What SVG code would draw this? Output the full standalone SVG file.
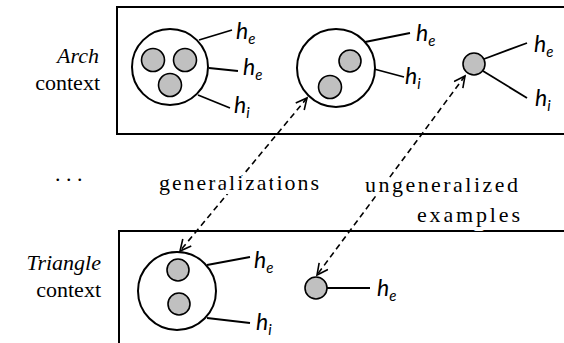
<svg xmlns="http://www.w3.org/2000/svg" width="564" height="343" viewBox="0 0 564 343">
<defs>
<style>
.frame{fill:none;stroke:#000;stroke-width:2}
.big{fill:#fff;stroke:#000;stroke-width:2}
.small{fill:#c0c0c0;stroke:#000;stroke-width:1.6}
.lk{stroke:#000;stroke-width:1.8;fill:none}
.dash{stroke:#000;stroke-width:1.6;fill:none;stroke-dasharray:6 4}
</style>
<marker id="ah" markerWidth="14" markerHeight="14" refX="12" refY="6" orient="auto-start-reverse" markerUnits="userSpaceOnUse">
<path d="M1,0.5 L12,6 L1,11.5" fill="none" stroke="#000" stroke-width="1.6"/>
</marker>
</defs>

<g id="arch-context" font-family="Liberation Serif, Times New Roman, serif" font-size="22">
<rect class="frame" x="117" y="7" width="460" height="127"/>
<text x="99" y="63" text-anchor="end" font-style="italic">Arch</text>
<text x="100" y="90" text-anchor="end">context</text>
</g>

<g id="triangle-context" font-family="Liberation Serif, Times New Roman, serif" font-size="22">
<path class="frame" d="M119,350 L119,231 L570,231"/>
<text x="101" y="270" text-anchor="end" font-style="italic">Triangle</text>
<text x="101" y="297" text-anchor="end">context</text>
</g>

<text id="ellipsis" x="55" y="181" font-family="Liberation Serif, Times New Roman, serif" font-size="22">. . .</text>

<g id="connectors">
<line class="dash" x1="307" y1="98" x2="180" y2="251" marker-start="url(#ah)" marker-end="url(#ah)"/>
<line class="dash" x1="465" y1="76" x2="317" y2="275" marker-start="url(#ah)" marker-end="url(#ah)"/>
<line class="lk" x1="199" y1="40" x2="232" y2="30"/>
<line class="lk" x1="209" y1="68" x2="238" y2="71"/>
<line class="lk" x1="198" y1="95" x2="230" y2="108"/>
<line class="lk" x1="365" y1="42" x2="410" y2="33"/>
<line class="lk" x1="374" y1="69" x2="404" y2="77"/>
<line class="lk" x1="484" y1="59" x2="527" y2="43"/>
<line class="lk" x1="483" y1="71" x2="527" y2="98"/>
<line class="lk" x1="207" y1="265" x2="250" y2="257"/>
<line class="lk" x1="207" y1="318" x2="250" y2="323"/>
<line class="lk" x1="327" y1="288" x2="370" y2="288"/>
</g>

<g id="labels" font-family="Liberation Serif, Times New Roman, serif" font-size="22" stroke="#fff" stroke-width="8" stroke-linejoin="round" paint-order="stroke">
<text x="159" y="190" textLength="160" lengthAdjust="spacing">generalizations</text>
<text x="365" y="192" textLength="153" lengthAdjust="spacing">ungeneralized</text>
<text x="417" y="222" textLength="103" lengthAdjust="spacing">examples</text>
</g>

<g id="arch-g3" font-family="Lato, Open Sans, sans-serif" font-size="23" font-style="italic">
<circle class="big" cx="170" cy="67" r="38"/>
<circle class="small" cx="153" cy="60" r="11.5"/>
<circle class="small" cx="185" cy="60" r="11.5"/>
<circle class="small" cx="170" cy="85" r="11.5"/>
<text x="236" y="39">h<tspan font-size="15" dy="5">e</tspan></text>
<text x="243" y="75">h<tspan font-size="15" dy="5">e</tspan></text>
<text x="234" y="113">h<tspan font-size="15" dy="5">i</tspan></text>
</g>

<g id="arch-g2" font-family="Lato, Open Sans, sans-serif" font-size="23" font-style="italic">
<circle class="big" cx="336" cy="68" r="39"/>
<circle class="small" cx="350" cy="61" r="11"/>
<circle class="small" cx="330" cy="87" r="11.5"/>
<text x="416" y="41">h<tspan font-size="15" dy="5">e</tspan></text>
<text x="405" y="84">h<tspan font-size="15" dy="5">i</tspan></text>
</g>

<g id="arch-ex" font-family="Lato, Open Sans, sans-serif" font-size="23" font-style="italic">
<circle class="small" cx="474" cy="64" r="11"/>
<text x="534" y="52">h<tspan font-size="15" dy="5">e</tspan></text>
<text x="535" y="106">h<tspan font-size="15" dy="5">i</tspan></text>
</g>

<g id="tri-g2" font-family="Lato, Open Sans, sans-serif" font-size="23" font-style="italic">
<circle class="big" cx="177" cy="291" r="39"/>
<circle class="small" cx="178" cy="270" r="11"/>
<circle class="small" cx="179" cy="304" r="11"/>
<text x="254" y="268">h<tspan font-size="15" dy="5">e</tspan></text>
<text x="256" y="330">h<tspan font-size="15" dy="5">i</tspan></text>
</g>

<g id="tri-ex" font-family="Lato, Open Sans, sans-serif" font-size="23" font-style="italic">
<circle class="small" cx="316" cy="288" r="11"/>
<text x="377" y="296">h<tspan font-size="15" dy="5">e</tspan></text>
</g>
</svg>
